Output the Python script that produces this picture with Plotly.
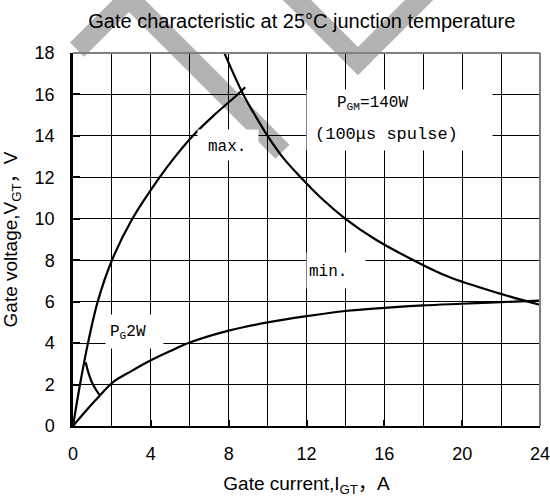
import plotly.graph_objects as go

# ---- data ----
max_i = [0, 0.36, 0.77, 1.27, 2.0, 3.05, 4.45, 5.25, 6.15, 7.25, 8.46, 8.85]
max_v = [0, 2.0, 4.0, 6.0, 8.0, 10.0, 12.0, 13.0, 14.0, 15.0, 16.0, 16.35]

min_i = [0, 0.69, 1.37, 2.06, 3.0, 4.0, 5.0, 6.07, 8.0, 10.0, 12.0, 14.0, 16.0, 18.0, 20.0, 22.0, 24.0]
min_v = [0, 0.76, 1.46, 2.12, 2.65, 3.17, 3.62, 4.05, 4.6, 5.0, 5.3, 5.55, 5.7, 5.82, 5.9, 5.98, 6.05]

pgm_i = [7.78, 8.2, 8.75, 9.35, 10.0, 10.75, 11.7, 12.75, 14.0, 15.55, 17.5, 19.3, 21.9, 24.0]
pgm_v = [18.0, 17.1, 16.0, 15.0, 14.0, 13.0, 12.0, 11.0, 10.0, 9.0, 8.0, 7.2, 6.4, 5.85]

pg_i = [0.65, 0.8, 0.95, 1.15, 1.4]
pg_v = [3.08, 2.55, 2.15, 1.8, 1.45]

x_ticks = list(range(0, 25, 2))
x_labels = [str(v) if v % 4 == 0 else "" for v in x_ticks]
x_major = list(range(0, 25, 4))
y_ticks = list(range(0, 19, 2))
y_labels = [str(v) for v in y_ticks]

title_text = "Gate characteristic at 25°C junction temperature"
x_title = "Gate current,I<sub>GT</sub>，A"
y_title = "Gate voltage,V<sub>GT</sub>，V"

# ---- figure ----
W, H = 550, 500
ML, MT = 73, 53
PW, PH = 467, 373
MR, MB = W - ML - PW, H - MT - PH


def px(X):  # pixel -> paper
    return (X - ML) / PW


def py(Y):
    return (MT + PH - Y) / PH


fig = go.Figure()
line_style = dict(color="black", width=2.2, shape="spline", smoothing=1.0)
for xs, ys in [(max_i, max_v), (min_i, min_v), (pgm_i, pgm_v), (pg_i, pg_v)]:
    fig.add_trace(go.Scatter(x=xs, y=ys, mode="lines", line=line_style,
                             hoverinfo="skip", showlegend=False))
# carrier trace for the overlay axes that draw the inner tick stubs
fig.add_trace(go.Scatter(x=[None], y=[None], xaxis="x2", yaxis="y2",
                         mode="lines", hoverinfo="skip", showlegend=False))

mono = "Liberation Mono"
sans = "Liberation Sans, Noto Sans CJK JP, Arial, sans-serif"

# watermark bands (paper coords from pixel positions)
wm = "#b3b3b3"
bands = [((77, 49.7), (136, -9)), ((122, -9), (282.5, 151.7)),
         ((278, -19), (365, 68)), ((351, 68), (438, -19))]
shapes = []
for (x0, y0), (x1, y1) in bands:
    shapes.append(dict(type="line", xref="paper", yref="paper",
                       x0=px(x0), y0=py(y0), x1=px(x1), y1=py(y1),
                       line=dict(color=wm, width=20), layer="below"))
# top and right frame (gray)
shapes.append(dict(type="line", xref="paper", yref="paper", x0=0, y0=1, x1=1, y1=1,
                   line=dict(color="#808080", width=2), layer="above"))
shapes.append(dict(type="line", xref="paper", yref="paper", x0=1, y0=0, x1=1, y1=1,
                   line=dict(color="#808080", width=2), layer="above"))

annotations = []


def box(cx, cy, w, h):
    annotations.append(dict(xref="x", yref="y", x=cx, y=cy, text=" ", showarrow=False,
                            bgcolor="white", width=w, height=h, borderpad=0,
                            xanchor="center", yanchor="middle"))


def label(cx, cy, text, size=16):
    annotations.append(dict(xref="x", yref="y", x=cx, y=cy, text=text, showarrow=False,
                            font=dict(family=mono, size=size, color="black"),
                            xanchor="center", yanchor="middle"))


box(7.99, 13.56, 60, 30)
label(7.92, 13.45, "max.")
box(16.78, 14.77, 185, 60)
label(15.41, 15.54, "P<sub>GM</sub>=140W")
label(16.13, 14.09, "(100μs spulse)", 17)
box(13.51, 7.5, 58, 35)
label(13.1, 7.43, "min.")
box(3.16, 4.56, 57, 33)
label(2.83, 4.49, "P<sub>G</sub>2W")

clear = "rgba(0,0,0,0)"
fig.update_layout(
    width=W, height=H,
    margin=dict(l=ML, r=MR, t=MT, b=MB, autoexpand=False),
    paper_bgcolor="white", plot_bgcolor="white",
    font=dict(family=sans, size=18, color="black"),
    title=dict(text=title_text, xref="paper", x=0.49, y=1 - 21 / H,
               xanchor="center", yanchor="middle",
               font=dict(family=sans, size=20, color="black")),
    shapes=shapes, annotations=annotations,
    xaxis=dict(range=[0, 24], tickmode="array", tickvals=x_ticks, ticktext=x_labels,
               showgrid=True, gridcolor="black", gridwidth=1, zeroline=False,
               showline=True, linecolor="black", linewidth=2,
               ticks="outside", ticklen=10, tickcolor=clear,
               ticklabeloverflow="allow",
               automargin=False, tickfont=dict(size=18),
               title=dict(text=x_title, standoff=14, font=dict(size=19))),
    yaxis=dict(range=[0, 18], tickmode="array", tickvals=y_ticks, ticktext=y_labels,
               showgrid=True, gridcolor="black", gridwidth=1, zeroline=False,
               showline=True, linecolor="black", linewidth=2.5,
               ticks="outside", ticklen=12, tickcolor=clear,
               ticklabeloverflow="allow",
               automargin=False, tickfont=dict(size=18),
               title=dict(text=y_title, standoff=12, font=dict(size=19))),
    xaxis2=dict(range=[0, 24], overlaying="x", anchor="y2", side="bottom",
                tickmode="array", tickvals=x_major, showticklabels=False,
                showgrid=False, zeroline=False, showline=False,
                ticks="inside", ticklen=6, tickwidth=2, tickcolor="black"),
    yaxis2=dict(range=[0, 18], overlaying="y", anchor="x2", side="left",
                tickmode="array", tickvals=y_ticks, showticklabels=False,
                showgrid=False, zeroline=False, showline=False,
                ticks="inside", ticklen=7, tickwidth=2, tickcolor="black"),
)

fig.write_html("out.html",
               config={"displayModeBar": False},
               post_script="document.body.style.margin='0';"
                           "document.body.style.overflow='hidden';")
